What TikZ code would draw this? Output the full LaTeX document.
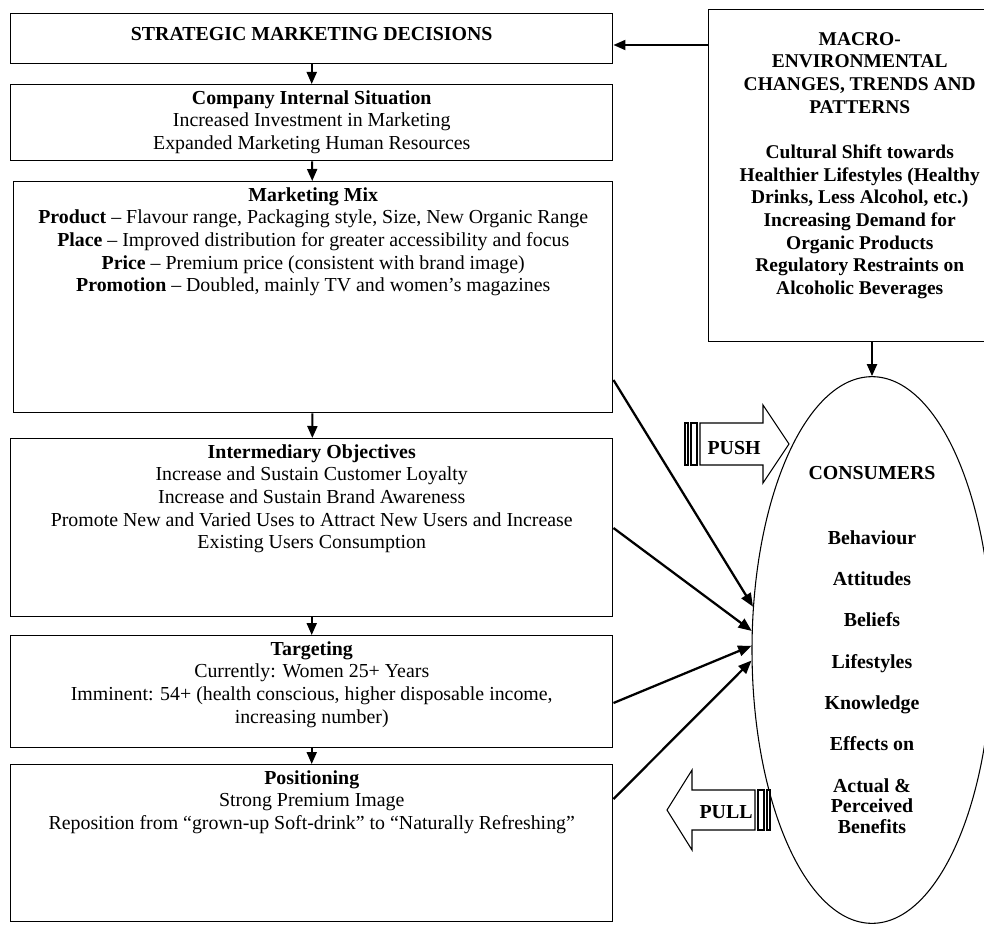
\documentclass[tikz,border=0pt]{standalone}
\usepackage{fontspec}
\setmainfont{Liberation Serif}
\usetikzlibrary{arrows.meta,calc,shapes.geometric}
\newcommand{\bxt}[4][451.5pt]{\parbox[c][#2][t]{#1}{\centering\vspace*{#3}#4\par}}
\begin{document}
\begin{tikzpicture}[x=0.75pt,y=-0.75pt,
  every node/.style={font=\fontsize{14.9}{17}\selectfont},
  box/.style={draw,line width=1.1pt,inner sep=0pt,anchor=north west},
  arr/.style={line width=1.5pt,-{Triangle[length=9pt,width=7.5pt]}},
  conn/.style={line width=1.7pt,-{Triangle[length=10pt,width=8pt]}},
  bigarrow/.style={draw,line width=0.8pt,fill=white}]
\useasboundingbox (0,0) rectangle (984,924);
\clip (0,0) rectangle (984,924);

\node[box] (b1) at (10,13) {\bxt{37.5pt}{8pt}{\strut\textbf{STRATEGIC MARKETING DECISIONS}}};
\node[box] (b2) at (10,84) {\bxt{57pt}{2.7pt}{\strut\textbf{Company Internal Situation}\\
Increased Investment in Marketing\\
Expanded Marketing Human Resources}};
\node[box] (b3) at (13,181) {\bxt[449.25pt]{173.25pt}{2.7pt}{\strut\textbf{Marketing Mix}\\
\textbf{Product} -- Flavour range, Packaging style, Size, New Organic Range\\
\textbf{Place} -- Improved distribution for greater accessibility and focus\\
\textbf{Price} -- Premium price (consistent with brand image)\\
\textbf{Promotion} -- Doubled, mainly TV and women’s magazines}};
\node[box] (b4) at (10,438) {\bxt{133.5pt}{2.7pt}{\strut\textbf{Intermediary Objectives}\\
Increase and Sustain Customer Loyalty\\
Increase and Sustain Brand Awareness\\
Promote New and Varied Uses to Attract New Users and Increase\\
Existing Users Consumption}};
\node[box] (b5) at (10,635) {\bxt{84pt}{2.7pt}{\strut\textbf{Targeting}\\
Currently: Women 25+ Years\\
Imminent: 54+ (health conscious, higher disposable income,\\
increasing number)}};
\node[box] (b6) at (10,764) {\bxt{117.75pt}{2.7pt}{\strut\textbf{Positioning}\\
Strong Premium Image\\
Reposition from “grown-up Soft-drink” to “Naturally Refreshing”}};

\node[box,font=\fontsize{14.6}{17}\selectfont] (macro) at (708,9) {\parbox[c][249pt][t]{226.5pt}{\centering\bfseries\vspace*{14.7pt}\strut MACRO-\\
ENVIRONMENTAL\\
CHANGES, TRENDS AND\\
PATTERNS\\[17pt]
Cultural Shift towards\\
Healthier Lifestyles (Healthy\\
Drinks, Less Alcohol, etc.)\\
Increasing Demand for\\
Organic Products\\
Regulatory Restraints on\\
Alcoholic Beverages\par}};

\node[draw,ellipse,line width=0.8pt,minimum width=180pt,minimum height=410pt,inner sep=0pt,align=center,
  font=\bfseries\fontsize{14.9}{15.5}\selectfont] (cons) at (872,650)
  {CONSUMERS\\[33pt]Behaviour\\[15.5pt]Attitudes\\[15.5pt]Beliefs\\[15.5pt]Lifestyles\\[15.5pt]Knowledge\\[15.5pt]Effects on\\[15.5pt]Actual \&\\Perceived\\Benefits};

% box-to-box arrows
\draw[arr] (b1) -- (b2);
\draw[arr] (b2) -- (b3);
\draw[arr] (b3) -- (b4);
\draw[arr] (b4) -- (b5);
\draw[arr] (b5) -- (b6);
\coordinate (m1) at ($(macro.north west)+(0,36)$);
\draw[arr] (m1) -- (m1 -| b1.east);
\draw[arr] (macro.south -| cons.north) -- (cons.north);

% connectors to consumers
\coordinate (s3) at (b3.east |- 0,380);
\coordinate (s4) at (b4.east |- 0,528);
\coordinate (s5) at (b5.east |- 0,703);
\coordinate (s6) at (b6.east |- 0,799);
\draw[conn] (s3) -- (cons.160);
\draw[conn] (s4) -- (cons.171);
\draw[conn] (s5) -- (cons.178);
\draw[conn] (s6) -- (cons.185);

% PUSH arrow
\draw[bigarrow] (700,423) -- (763,423) -- (763,405) -- (789,444) -- (763,483) -- (763,465) -- (700,465) -- cycle;
\draw[bigarrow] (685,423) rectangle (688,465);
\draw[bigarrow] (691,423) rectangle (697,465);
\node[font=\bfseries\fontsize{14.9}{17}\selectfont] (push) at (734,448) {PUSH};

% PULL arrow
\draw[bigarrow] (755,790) -- (692,790) -- (692,770) -- (667,810) -- (692,850) -- (692,830) -- (755,830) -- cycle;
\draw[bigarrow] (758,790) rectangle (764,830);
\draw[bigarrow] (767,790) rectangle (770,830);
\node[font=\bfseries\fontsize{14.9}{17}\selectfont] (pull) at (726,812) {PULL};
\end{tikzpicture}
\end{document}
